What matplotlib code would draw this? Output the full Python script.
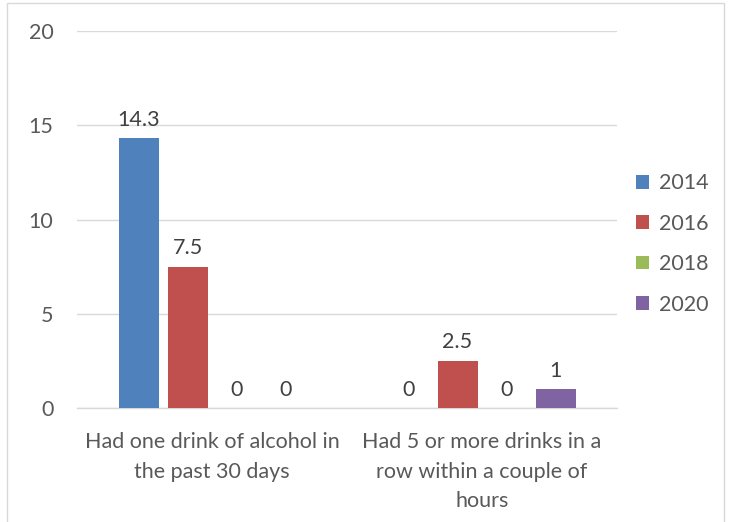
import matplotlib
matplotlib.use("Agg")
import matplotlib.pyplot as plt
from matplotlib.patches import Rectangle
import numpy as np

categories = ["Had one drink of alcohol in\nthe past 30 days",
              "Had 5 or more drinks in a\nrow within a couple of\nhours"]
years = ["2014", "2016", "2018", "2020"]
values = {
    "2014": [14.3, 0],
    "2016": [7.5, 2.5],
    "2018": [0, 0],
    "2020": [0, 1],
}
colors = ["#4F81BD", "#C0504D", "#9BBB59", "#8064A2"]
yticks = [0, 5, 10, 15, 20]

plt.rcParams['font.family'] = ['Lato', 'DejaVu Sans']
txt = "#595959"
fs = 15.5

fig = plt.figure(figsize=(7.32, 5.22), dpi=100)
ax = fig.add_axes([77/732, 1-408/522, 540/732, 377/522])

x = np.arange(len(categories))
step = 49/270
width = 40/270
for i, (yr, c) in enumerate(zip(years, colors)):
    pos = x + (i - 1.5) * step
    vals = values[yr]
    ax.bar(pos, vals, width, color=c, label=yr, zorder=3)
    for p, v in zip(pos, vals):
        ax.text(p, v + 0.45, f"{v:g}", ha='center', va='bottom', fontsize=fs, color="#404040")

ax.set_xlim(-0.5, 1.5)
ax.set_ylim(0, 20)
ax.set_yticks(yticks)
ax.set_yticklabels([str(t) for t in yticks], fontsize=fs, color=txt)
ax.set_xticks(x)
ax.set_xticklabels(categories, fontsize=fs, color=txt, linespacing=1.62, va='top')
ax.tick_params(axis='both', length=0)
ax.tick_params(axis='y', pad=17)
ax.tick_params(axis='x', pad=17)
ax.yaxis.grid(True, color="#D9D9D9", linewidth=1, zorder=0)
for s in ['top', 'right', 'left']:
    ax.spines[s].set_visible(False)
ax.spines['bottom'].set_color("#D9D9D9")
ax.spines['bottom'].set_linewidth(1)

leg = fig.legend(loc='center left', bbox_to_anchor=(617/732, 1-244/522), frameon=False,
                 fontsize=fs, handlelength=0.6, handleheight=0.6, labelspacing=0.95,
                 handletextpad=0.45)
for t in leg.get_texts():
    t.set_color(txt)

fig.patches.append(Rectangle((7/732, -0.05), 717/732, 1.05 - 3/522, transform=fig.transFigure,
                             fill=False, edgecolor="#D9D9D9", linewidth=1))

fig.savefig("out.png", dpi=100)
